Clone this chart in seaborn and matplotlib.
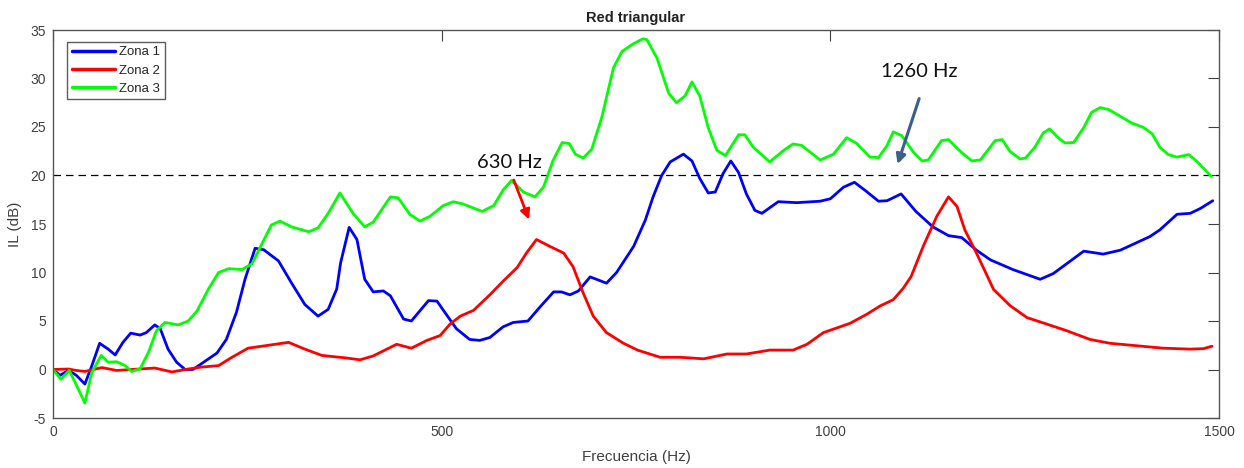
import numpy as np
import pandas as pd
import matplotlib
matplotlib.use("Agg")
import matplotlib.pyplot as plt
import seaborn as sns

# Insertion loss per zone, frequency in Hz and IL in dB
freq_z1 = [0, 9, 20, 30, 41, 50, 60, 71, 80, 90, 100, 112, 120, 131, 138, 148, 159, 170, 180, 191,
           211, 223, 236, 247, 260, 271, 290, 307, 324, 341, 354, 365, 370, 381, 391, 401, 412, 425,
           434, 451, 461, 483, 494, 504, 519, 536, 549, 562, 579, 592, 611, 626, 644, 654, 665, 676,
           691, 712, 725, 747, 762, 772, 783, 794, 811, 822, 832, 843, 852, 862, 872, 882, 892, 903,
           912, 933, 957, 987, 1000, 1017, 1031, 1045, 1062, 1073, 1091, 1110, 1132, 1152, 1169,
           1188, 1206, 1235, 1270, 1287, 1326, 1351, 1373, 1411, 1424, 1446, 1463, 1476, 1492]
il_z1 = [0, -0.6, -0.1, -0.6, -1.5, 0.4, 2.7, 2.1, 1.5, 2.8, 3.75, 3.55, 3.8, 4.6, 4.2, 2.1, 0.75, 0, 0, 0.6,
         1.7, 3.1, 5.9, 9.3, 12.5, 12.35, 11.2, 8.9, 6.7, 5.5, 6.2, 8.3, 11.0, 14.65, 13.4, 9.3, 8.0, 8.1,
         7.6, 5.2, 5.0, 7.1, 7.05, 5.9, 4.2, 3.1, 3.0, 3.3, 4.4, 4.85, 5.0, 6.4, 8.0, 8.0, 7.7, 8.1,
         9.55, 8.9, 10.0, 12.7, 15.4, 17.8, 20.0, 21.4, 22.2, 21.5, 19.7, 18.2, 18.3, 20.2, 21.5, 20.3, 18.1, 16.4,
         16.1, 17.3, 17.2, 17.35, 17.6, 18.8, 19.3, 18.45, 17.35, 17.4, 18.1, 16.3, 14.7, 13.8, 13.6,
         12.3, 11.3, 10.3, 9.3, 9.9, 12.2, 11.9, 12.3, 13.7, 14.4, 16.0, 16.1, 16.6, 17.4]

freq_z2 = [0, 20, 30, 41, 63, 82, 101, 131, 153, 174, 191, 213, 230, 251, 273, 303, 324, 346, 376, 395,
           412, 442, 461, 481, 498, 511, 524, 541, 562, 579, 597, 609, 622, 639, 657, 669, 682, 695,
           712, 734, 752, 781, 807, 837, 867, 892, 922, 952, 970, 991, 1025, 1047, 1064, 1081, 1094,
           1104, 1120, 1137, 1152, 1163, 1173, 1188, 1210, 1231, 1253, 1274, 1304, 1334, 1360, 1394,
           1428, 1463, 1480, 1491]
il_z2 = [0, 0.05, -0.1, -0.2, 0.2, -0.1, 0.0, 0.15, -0.25, 0.05, 0.25, 0.4, 1.25, 2.2, 2.45, 2.8, 2.1, 1.45, 1.2, 1.0,
         1.4, 2.6, 2.2, 3.0, 3.5, 4.7, 5.5, 6.1, 7.7, 9.1, 10.5, 12.0, 13.4, 12.7, 12.0, 10.6, 7.9, 5.5,
         3.8, 2.7, 2.0, 1.26, 1.26, 1.1, 1.6, 1.6, 2.0, 2.0, 2.6, 3.8, 4.75, 5.7, 6.55, 7.2, 8.4,
         9.6, 12.8, 15.8, 17.8, 16.8, 14.4, 12.0, 8.25, 6.6, 5.35, 4.8, 4.0, 3.1, 2.7, 2.45,
         2.2, 2.1, 2.15, 2.4]

freq_z3 = [0, 10, 21, 30, 41, 50, 62, 71, 82, 93, 101, 112, 123, 133, 144, 161, 174, 185, 200, 213,
           226, 243, 256, 269, 281, 292, 307, 329, 341, 354, 369, 386, 401, 412, 434, 444, 459, 472,
           485, 502, 515, 528, 552, 567, 579, 590, 605, 620, 631, 643, 655, 664, 672, 682, 693, 706,
           721, 732, 747, 759, 764, 777, 792, 802, 813, 822, 832, 843, 854, 865, 882, 890, 901, 922,
           940, 952, 963, 987, 1004, 1021, 1034, 1051, 1062, 1073, 1081, 1092, 1107, 1118, 1126,
           1143, 1152, 1167, 1182, 1193, 1212, 1221, 1231, 1244, 1251, 1263, 1274, 1282, 1293, 1302,
           1313, 1326, 1336, 1347, 1358, 1373, 1388, 1403, 1414, 1424, 1435, 1446, 1461, 1471, 1482, 1490]
il_z3 = [0, -1.0, -0.1, -1.6, -3.45, -0.3, 1.45, 0.75, 0.8, 0.4, -0.2, 0.07, 1.8, 4.0, 4.85, 4.6, 5.0, 6.0, 8.3, 10.0,
         10.4, 10.3, 10.9, 13.0, 14.9, 15.3, 14.7, 14.2, 14.6, 16.1, 18.2, 16.1, 14.7, 15.2, 17.8, 17.7, 16.0, 15.3,
         15.8, 16.9, 17.3, 17.05, 16.3, 16.9, 18.5, 19.5, 18.3, 17.8, 18.8, 21.5, 23.4, 23.3, 22.2, 21.8, 22.7, 26.0,
         31.1, 32.8, 33.6, 34.1, 34.0, 32.1, 28.5, 27.5, 28.2, 29.65, 28.2, 24.9, 22.6, 22.05, 24.2, 24.2, 22.9, 21.4,
         22.6, 23.25, 23.1, 21.6, 22.2, 23.9, 23.3, 21.9, 21.85, 23.1, 24.5, 24.1, 22.4, 21.5, 21.6,
         23.6, 23.7, 22.5, 21.5, 21.6, 23.6, 23.7, 22.5, 21.7, 21.8, 22.9, 24.4, 24.8, 23.9, 23.35,
         23.4, 24.95, 26.5, 27.0, 26.8, 26.1, 25.4, 24.95, 24.3, 22.9, 22.15, 21.9, 22.15, 21.5, 20.6, 19.9]

zone_names = ["Zona 1", "Zona 2", "Zona 3"]
zone_colors = ["#0000FF", "#FF0000", "#00FF00"]
threshold_db = 20.1

x_ticks = [0, 500, 1000, 1500]
y_ticks = [-5, 0, 5, 10, 15, 20, 25, 30, 35]

df = pd.concat([
    pd.DataFrame({"f": freq_z1, "il": il_z1, "zona": zone_names[0]}),
    pd.DataFrame({"f": freq_z2, "il": il_z2, "zona": zone_names[1]}),
    pd.DataFrame({"f": freq_z3, "il": il_z3, "zona": zone_names[2]}),
], ignore_index=True)

sns.set_theme(style="white")
plt.rcParams["font.family"] = ["Liberation Sans", "DejaVu Sans"]
plt.rcParams["axes.unicode_minus"] = False

fig = plt.figure(figsize=(12.44, 4.68), dpi=100)
ax = fig.add_axes([53 / 1244, 1 - 418 / 468, (1219 - 53) / 1244, (418 - 30) / 468])

sns.lineplot(data=df, x="f", y="il", hue="zona", palette=dict(zip(zone_names, zone_colors)),
             estimator=None, sort=False, linewidth=2.0, ax=ax)

ax.axhline(threshold_db, color="black", lw=0.9, linestyle=(0, (6, 4)), zorder=1)

ax.set_xlim(0, 1500)
ax.set_ylim(-5, 35)
ax.set_xticks(x_ticks)
ax.set_yticks(y_ticks)
ax.tick_params(direction="in", length=8, width=0.8, colors="#404040", labelsize=10,
               top=True, right=True, labelcolor="#404040", pad=5)
for s in ax.spines.values():
    s.set_color("#555555")
    s.set_linewidth(1.0)

ax.set_xlabel("Frecuencia (Hz)", fontsize=11, color="#404040", labelpad=8)
ax.set_ylabel("IL (dB)", fontsize=11, color="#404040", labelpad=6)
ax.set_title("Red triangular", fontsize=10.5, fontweight="bold", color="#222222", pad=6)

leg = ax.legend(loc="upper left", bbox_to_anchor=(0.012, 0.97), fontsize=9.5, frameon=True,
                fancybox=False, edgecolor="#333333", handlelength=3.3, borderpad=0.35,
                labelspacing=0.45, handletextpad=0.3, borderaxespad=0)
leg.get_frame().set_linewidth(1.0)
for line in leg.get_lines():
    line.set_linewidth(2.5)

# Annotated resonances
ax.text(587, 21.3, "630 Hz", fontsize=14.5, family=["Lato", "DejaVu Sans"],
        ha="center", va="center", color="#111111")
ax.annotate("", xy=(613.7, 15.2), xytext=(591.4, 19.8),
            arrowprops=dict(arrowstyle="-|>", color="#FF0000", lw=2, mutation_scale=14))
ax.text(1114, 30.7, "1260 Hz", fontsize=14.5, family=["Lato", "DejaVu Sans"],
        ha="center", va="center", color="#111111")
ax.annotate("", xy=(1085.4, 20.9), xytext=(1115.4, 28.2),
            arrowprops=dict(arrowstyle="-|>", color="#3B5E8C", lw=2.2, mutation_scale=14))

fig.savefig("out.png", dpi=100)
